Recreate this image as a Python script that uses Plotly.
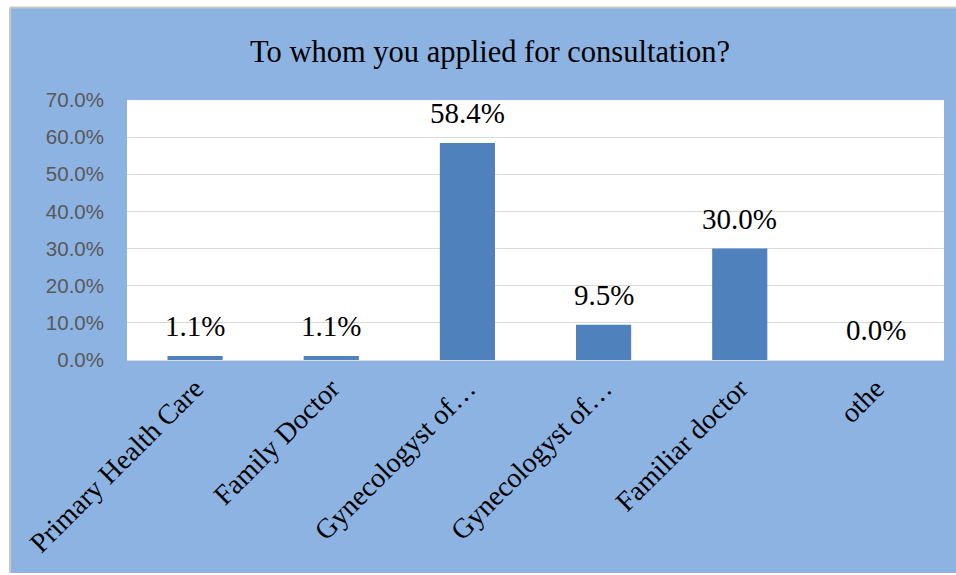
import plotly.graph_objects as go

categories = ["Primary Health Care", "Family Doctor", "Gynecologyst of…",
              "Gynecologyst of…", "Familiar doctor", "othe"]
cat_ids = ["c0", "c1", "c2", "c3", "c4", "c5"]
values = [0.011, 0.011, 0.584, 0.095, 0.300, 0.0]
labels = ["1.1%", "1.1%", "58.4%", "9.5%", "30.0%", "0.0%"]
y_ticks = [0, 0.1, 0.2, 0.3, 0.4, 0.5, 0.6, 0.7]
y_tick_text = ["0.0%", "10.0%", "20.0%", "30.0%", "40.0%", "50.0%", "60.0%", "70.0%"]
title_text = "To whom you applied for consultation?"

W, H = 956, 575
BLUE = "#8DB3E2"
SERIF = "Liberation Serif, Times New Roman, serif"

fig = go.Figure()
fig.add_trace(go.Bar(x=cat_ids, y=values, marker=dict(color="#4F81BD", line=dict(width=0)),
                     hoverinfo="skip"))

for c, v, t in zip(cat_ids, values, labels):
    fig.add_annotation(x=c, y=v, xref="x", yref="y", text=t, showarrow=False,
                       yanchor="bottom", yshift=12,
                       font=dict(family=SERIF, size=29, color="#000000"))

# white outer margins with thin gray border lines (outside plot area)
def px_x(p):
    return (p - 127) / (944 - 127)

def px_y(p):
    return (360 - p) / (360 - 100)

shapes = [
    dict(type="rect", xref="paper", yref="paper", x0=px_x(-5), x1=px_x(W + 5), y0=px_y(-5), y1=px_y(8),
         fillcolor="white", line=dict(width=0), layer="above"),
    dict(type="rect", xref="paper", yref="paper", x0=px_x(-5), x1=px_x(11), y0=px_y(H + 5), y1=px_y(-5),
         fillcolor="white", line=dict(width=0), layer="above"),
    dict(type="rect", xref="paper", yref="paper", x0=px_x(-5), x1=px_x(W + 5), y0=px_y(H + 5), y1=px_y(573),
         fillcolor="white", line=dict(width=0), layer="above"),
    dict(type="line", xref="paper", yref="paper", x0=px_x(10), x1=px_x(W + 5), y0=px_y(7.5), y1=px_y(7.5),
         line=dict(color="#C8C8C8", width=2), layer="above"),
    dict(type="line", xref="paper", yref="paper", x0=px_x(10), x1=px_x(10), y0=px_y(7.5), y1=px_y(573),
         line=dict(color="#C8C8C8", width=2), layer="above"),
]

fig.update_layout(
    width=W, height=H,
    margin=dict(l=127, r=12, t=100, b=215, autoexpand=False),
    paper_bgcolor=BLUE, plot_bgcolor="white",
    bargap=0.595,
    showlegend=False,
    shapes=shapes,
    title=dict(text=title_text, x=490 / W, xanchor="center", y=1 - 51 / H, yanchor="middle",
               font=dict(family=SERIF, size=30.5, color="#000000")),
    xaxis=dict(tickmode="array", tickvals=cat_ids, ticktext=categories, tickangle=-45,
               tickfont=dict(family=SERIF, size=28, color="#000000"),
               showgrid=False, showline=True, linecolor="#D9D9D9", linewidth=1, ticks="",
               zeroline=False, fixedrange=True),
    yaxis=dict(range=[0, 0.7], tickmode="array", tickvals=y_ticks, ticktext=y_tick_text,
               tickfont=dict(family="Liberation Sans, Arial, sans-serif", size=20.5, color="#595959"),
               showgrid=True, gridcolor="#D9D9D9", gridwidth=1, zeroline=False,
               showline=False, ticks="", ticklabelstandoff=22, fixedrange=True),
)

fig.write_html("out.html")
